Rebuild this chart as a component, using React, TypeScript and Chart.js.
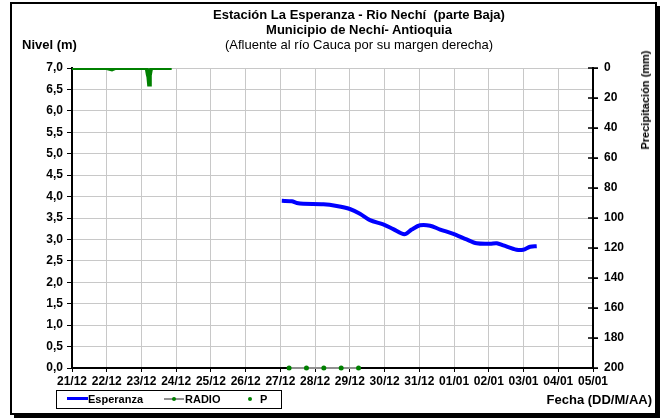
import React, { useEffect, useRef } from "react";
import { Chart, registerables } from "chart.js";

Chart.register(...registerables);

const dayLabels = ["21/12", "22/12", "23/12", "24/12", "25/12", "26/12", "27/12", "28/12", "29/12", "30/12", "31/12", "01/01", "02/01", "03/01", "04/01", "05/01"];

const esperanzaDays = [6.04, 6.33, 6.47, 6.66, 7.24, 7.62, 8.0, 8.29, 8.58, 8.96, 9.25, 9.57, 9.78, 10.02, 10.31, 10.6, 10.98, 11.36, 11.65, 12.04, 12.23, 12.42, 12.8, 12.99, 13.19, 13.38];
const esperanzaLevels = [3.9, 3.89, 3.85, 3.83, 3.82, 3.78, 3.71, 3.6, 3.45, 3.35, 3.24, 3.12, 3.23, 3.33, 3.32, 3.23, 3.13, 3.0, 2.91, 2.9, 2.91, 2.86, 2.76, 2.76, 2.83, 2.84];

const radioDays = [6.25, 6.75, 7.25, 7.75, 8.25];
const radioLevels = [0, 0, 0, 0, 0];

const pDays = [0, 0.25, 0.5, 0.75, 1.0, 1.15, 1.25, 1.5, 1.75, 2.0, 2.15, 2.18, 2.2, 2.22, 2.24, 2.27, 2.3, 2.5, 2.75, 2.87];
const pValues = [0, 0, 0, 0, 0, 1, 0, 0, 0, 0, 0, 4, 6, 11, 5, 1, 0, 0, 0, 0];

const FONT = "'Liberation Sans', Arial, sans-serif";

const frame = {
  id: "frame",
  afterDraw(chart: any) {
    const ctx = chart.ctx;
    const r = chart.scales.y2;
    ctx.save();
    ctx.strokeStyle = "#000";
    ctx.lineWidth = 1.5;
    r.ticks.forEach((t: any) => {
      const y = r.getPixelForValue(t.value);
      ctx.beginPath();
      ctx.moveTo(r.left - 5, y);
      ctx.lineTo(r.left + 5, y);
      ctx.stroke();
    });
    ctx.lineWidth = 2;
    ctx.strokeRect(11, 3, 645, 411);
    ctx.fillStyle = "#000";
    ctx.fillRect(656, 6, 4, 412);
    ctx.fillRect(14, 414, 646, 4);
    ctx.restore();
  },
};

export default function App() {
  const ref = useRef<HTMLCanvasElement>(null);
  useEffect(() => {
    const ctx = ref.current!.getContext("2d")!;
    const tickFont = { family: FONT, size: 12, weight: "bold" as const };
    const chart = new Chart(ctx, {
      type: "scatter",
      data: {
        datasets: [
          {
            label: "P",
            data: pDays.map((d, i) => ({ x: d, y: pValues[i] })),
            yAxisID: "y2",
            showLine: true,
            borderColor: "#008000",
            backgroundColor: "#008000",
            borderWidth: 4,
            pointRadius: 0,
          },
          {
            label: "Esperanza",
            data: esperanzaDays.map((d, i) => ({ x: d, y: esperanzaLevels[i] })),
            yAxisID: "y",
            showLine: true,
            borderColor: "#0000ff",
            backgroundColor: "#0000ff",
            borderWidth: 4,
            pointRadius: 0,
            tension: 0.3,
          },
          {
            label: "RADIO",
            data: radioDays.map((d, i) => ({ x: d, y: radioLevels[i] })),
            yAxisID: "y",
            showLine: true,
            borderColor: "#909090",
            backgroundColor: "#008000",
            borderWidth: 2,
            pointRadius: 2.5,
            pointBorderWidth: 0,
            clip: false,
          },
        ],
      },
      options: {
        responsive: false,
        animation: false,
        layout: { padding: { top: 68, left: 0, right: 0, bottom: 0 } },
        plugins: { legend: { display: false }, tooltip: { enabled: false } },
        scales: {
          x: {
            type: "linear",
            min: 0,
            max: 15,
            afterFit: (s: any) => { s.height = 52; },
            ticks: {
              stepSize: 1,
              autoSkip: false,
              maxRotation: 0,
              padding: 2,
              color: "#000",
              font: tickFont,
              callback: (v: any) => dayLabels[Math.round(v)] ?? "",
            },
            grid: { color: "#c8c8c8", lineWidth: 1, tickColor: "#000", tickLength: 4 },
            border: { color: "#000", width: 2 },
          },
          y: {
            position: "left",
            min: 0,
            max: 7,
            afterFit: (s: any) => { s.width = 72; },
            ticks: {
              stepSize: 0.5,
              padding: 4,
              color: "#000",
              font: tickFont,
              callback: (v: any) => Number(v).toFixed(1).replace(".", ","),
            },
            grid: { color: "#c8c8c8", lineWidth: 1, tickColor: "#000", tickLength: 5 },
            border: { color: "#000", width: 2 },
          },
          y2: {
            position: "right",
            min: 0,
            max: 200,
            reverse: true,
            afterFit: (s: any) => { s.width = 69; },
            ticks: { stepSize: 20, padding: 6, color: "#000", font: tickFont },
            grid: { drawOnChartArea: false, tickLength: 5, tickColor: "#000" },
            border: { color: "#000", width: 2 },
          },
        },
      },
      plugins: [frame],
    });
    return () => chart.destroy();
  }, []);

  const bold = { fontFamily: FONT, fontWeight: "bold" as const, color: "#000", whiteSpace: "pre" as const };
  const abs = (o: any) => ({ position: "absolute" as const, ...o });

  return (
    <div style={{ position: "fixed", left: 0, top: 0, width: 662, height: 420, background: "#fff", overflow: "hidden" }}>
      <canvas ref={ref} width={662} height={420} style={{ display: "block" }} />
      <div style={abs({ ...bold, left: 359, top: 8, transform: "translateX(-50%)", fontSize: 13, lineHeight: "14px" })}>Estación La Esperanza - Rio Nechí  (parte Baja)</div>
      <div style={abs({ ...bold, left: 359, top: 23, transform: "translateX(-50%)", fontSize: 13, lineHeight: "14px" })}>Municipio de Nechí- Antioquia</div>
      <div style={abs({ ...bold, fontWeight: "normal", left: 359, top: 38, transform: "translateX(-50%)", fontSize: 13, lineHeight: "14px" })}>(Afluente al río Cauca por su margen derecha)</div>
      <div style={abs({ ...bold, left: 22, top: 38, fontSize: 13, lineHeight: "14px" })}>Nivel (m)</div>
      <div style={abs({ ...bold, left: 645, top: 100, transform: "translate(-50%,-50%) rotate(-90deg)", fontSize: 11, lineHeight: "12px" })}>Precipitación (mm)</div>
      <div style={abs({ ...bold, right: 10, top: 393, fontSize: 13, lineHeight: "14px" })}>Fecha (DD/M/AA)</div>
      <div style={abs({ left: 56, top: 390, width: 226, height: 19, border: "1.5px solid #000", boxSizing: "border-box", background: "#fff" })}>
        <div style={abs({ left: 10, top: 6, width: 21, height: 3, background: "#0000ff" })} />
        <div style={abs({ ...bold, left: 31, top: 1, fontSize: 11, lineHeight: "14px" })}>Esperanza</div>
        <div style={abs({ left: 107, top: 7, width: 20, height: 2, background: "#909090" })} />
        <div style={abs({ left: 115, top: 6, width: 4, height: 4, borderRadius: 2, background: "#008000" })} />
        <div style={abs({ ...bold, left: 128, top: 1, fontSize: 11, lineHeight: "14px" })}>RADIO</div>
        <div style={abs({ left: 191, top: 6, width: 4, height: 4, borderRadius: 2, background: "#008000" })} />
        <div style={abs({ ...bold, left: 203, top: 1, fontSize: 11, lineHeight: "14px" })}>P</div>
      </div>
    </div>
  );
}
